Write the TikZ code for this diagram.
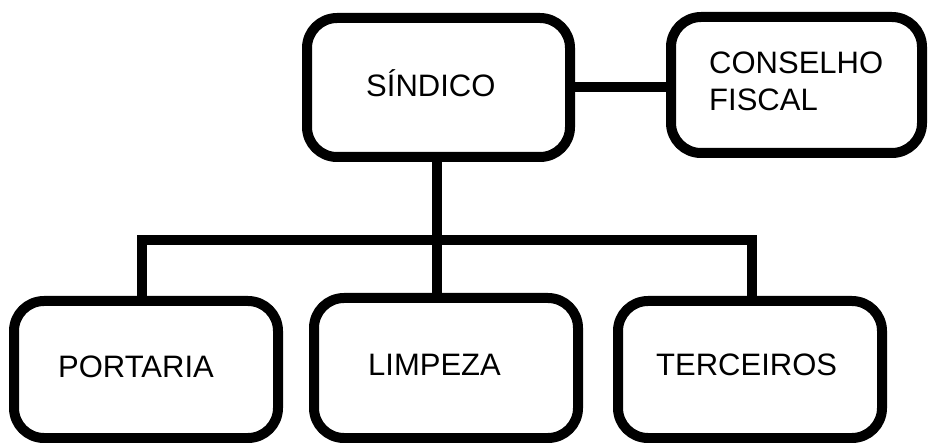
\documentclass[tikz,border=0pt]{standalone}
\usepackage{fontspec}
\setmainfont{Liberation Sans}
\begin{document}
\begin{tikzpicture}[x=1pt,y=-1pt,
  box/.style={draw, line width=10pt, rounded corners=30pt, inner sep=0pt, outer sep=0pt},
  wire/.style={line width=10pt, line join=miter},
  lbl/.style={font=\fontsize{31}{37}\selectfont, inner sep=0pt, align=left}]
\useasboundingbox (0,0) rectangle (928,443);

% boxes
\node[box, minimum width=263pt, minimum height=139pt] (sind) at (438.5,87.5) {};
\node[box, minimum width=251pt, minimum height=136pt] (cons) at (796.5,85) {};
\node[box, minimum width=264pt, minimum height=137pt] (port) at (146,369.5) {};
\node[box, minimum width=264pt, minimum height=140pt] (limp) at (446,368) {};
\node[box, minimum width=264pt, minimum height=137pt] (terc) at (750,369.5) {};

% labels
\node[lbl, anchor=base west] (tsind) at (366,97) {SÍNDICO};
\node[lbl, anchor=north west] (tcons) at (709,52) {CONSELHO\\FISCAL};
\node[lbl, anchor=base west] (tport) at (58,377) {PORTARIA};
\node[lbl, anchor=base west] (tlimp) at (368,375) {LIMPEZA};
\node[lbl, anchor=base west] (tterc) at (656,375) {TERCEIROS};

% connectors
\coordinate (bus) at (437,240);
\draw[wire] (sind.east |- 0,87) -- (cons.west |- 0,87);
\draw[wire] (bus |- sind.south) -- (bus |- limp.north);
\draw[wire] ([xshift=-4pt]port.north) |- (bus) -| ([xshift=2pt]terc.north);
\end{tikzpicture}
\end{document}
